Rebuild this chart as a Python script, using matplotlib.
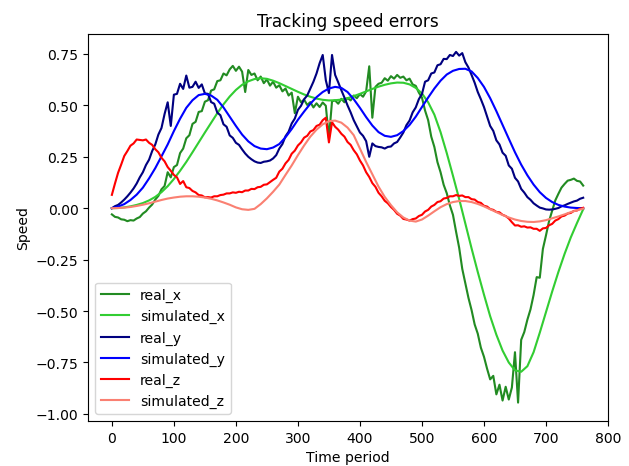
import numpy as np
import matplotlib
matplotlib.use("Agg")
import matplotlib.pyplot as plt

# ---- data ----
# real series sampled every 5 time steps (0..760)
real_x = [-0.030, -0.042, -0.045, -0.054, -0.056, -0.063, -0.058, -0.060, -0.050, -0.043,
          -0.026, -0.015, 0.003, 0.018, 0.042, 0.060, 0.092, 0.108, 0.175, 0.150,
          0.200, 0.210, 0.268, 0.290, 0.340, 0.355, 0.410, 0.420, 0.468, 0.472,
          0.518, 0.525, 0.572, 0.578, 0.618, 0.622, 0.655, 0.646, 0.675, 0.692,
          0.668, 0.688, 0.664, 0.565, 0.672, 0.648, 0.655, 0.622, 0.640, 0.608,
          0.626, 0.596, 0.615, 0.586, 0.598, 0.568, 0.582, 0.548, 0.562, 0.462,
          0.542, 0.515, 0.528, 0.502, 0.516, 0.490, 0.510, 0.492, 0.514, 0.498,
          0.340, 0.520, 0.524, 0.508, 0.532, 0.515, 0.536, 0.524, 0.548, 0.535,
          0.555, 0.542, 0.568, 0.690, 0.440, 0.590, 0.605, 0.610, 0.632, 0.620,
          0.642, 0.630, 0.648, 0.634, 0.640, 0.622, 0.630, 0.602, 0.595, 0.562,
          0.538, 0.475, 0.428, 0.348, 0.298, 0.224, 0.175, 0.114, 0.073, 0.014,
          -0.032, -0.114, -0.192, -0.295, -0.366, -0.436, -0.495, -0.565, -0.610, -0.678,
          -0.722, -0.780, -0.832, -0.815, -0.905, -0.858, -0.935, -0.868, -0.930, -0.872,
          -0.700, -0.945, -0.640, -0.602, -0.542, -0.492, -0.422, -0.335, -0.338, -0.198,
          -0.132, -0.062, -0.012, 0.038, 0.070, 0.100, 0.118, 0.134, 0.138, 0.144,
          0.133, 0.130, 0.110]

real_y = [0.000, 0.010, 0.016, 0.028, 0.042, 0.058, 0.076, 0.096, 0.120, 0.150,
          0.175, 0.210, 0.236, 0.278, 0.310, 0.358, 0.390, 0.458, 0.515, 0.400,
          0.552, 0.556, 0.605, 0.580, 0.645, 0.586, 0.590, 0.615, 0.585, 0.602,
          0.558, 0.556, 0.516, 0.508, 0.465, 0.452, 0.408, 0.396, 0.354, 0.342,
          0.318, 0.308, 0.286, 0.266, 0.250, 0.238, 0.228, 0.222, 0.220, 0.226,
          0.228, 0.232, 0.242, 0.258, 0.290, 0.312, 0.350, 0.372, 0.412, 0.436,
          0.478, 0.498, 0.530, 0.548, 0.582, 0.615, 0.655, 0.705, 0.745, 0.622,
          0.560, 0.745, 0.648, 0.612, 0.574, 0.538, 0.500, 0.466, 0.428, 0.398,
          0.368, 0.352, 0.326, 0.250, 0.315, 0.302, 0.298, 0.296, 0.290, 0.298,
          0.300, 0.315, 0.322, 0.344, 0.368, 0.404, 0.426, 0.466, 0.490, 0.530,
          0.555, 0.615, 0.622, 0.655, 0.660, 0.695, 0.700, 0.726, 0.725, 0.745,
          0.740, 0.760, 0.742, 0.754, 0.710, 0.684, 0.648, 0.610, 0.565, 0.530,
          0.492, 0.446, 0.400, 0.376, 0.330, 0.310, 0.270, 0.255, 0.208, 0.192,
          0.148, 0.130, 0.094, 0.076, 0.054, 0.041, 0.024, 0.013, 0.003, -0.001,
          -0.006, -0.007, -0.006, -0.003, 0.001, 0.009, 0.014, 0.021, 0.027, 0.033,
          0.037, 0.046, 0.051]

real_z = [0.065, 0.120, 0.172, 0.212, 0.254, 0.278, 0.304, 0.315, 0.334, 0.332,
          0.330, 0.334, 0.318, 0.308, 0.287, 0.272, 0.245, 0.228, 0.200, 0.182,
          0.162, 0.150, 0.118, 0.132, 0.102, 0.098, 0.084, 0.077, 0.064, 0.062,
          0.053, 0.054, 0.052, 0.058, 0.058, 0.064, 0.066, 0.072, 0.072, 0.077,
          0.075, 0.080, 0.078, 0.086, 0.086, 0.094, 0.093, 0.102, 0.104, 0.114,
          0.116, 0.127, 0.138, 0.148, 0.178, 0.192, 0.218, 0.235, 0.265, 0.280,
          0.305, 0.320, 0.343, 0.352, 0.373, 0.380, 0.400, 0.406, 0.428, 0.440,
          0.320, 0.418, 0.396, 0.382, 0.362, 0.348, 0.322, 0.308, 0.282, 0.262,
          0.232, 0.208, 0.175, 0.152, 0.122, 0.104, 0.075, 0.058, 0.036, 0.024,
          0.006, -0.008, -0.027, -0.036, -0.052, -0.055, -0.060, -0.053, -0.050, -0.038,
          -0.032, -0.016, -0.008, 0.008, 0.016, 0.030, 0.034, 0.047, 0.050, 0.058,
          0.058, 0.064, 0.060, 0.062, 0.054, 0.054, 0.044, 0.042, 0.030, 0.026,
          0.012, 0.008, -0.004, -0.008, -0.018, -0.020, -0.032, -0.038, -0.050, -0.068,
          -0.084, -0.083, -0.090, -0.088, -0.094, -0.093, -0.100, -0.100, -0.110, -0.098,
          -0.096, -0.083, -0.076, -0.060, -0.053, -0.040, -0.036, -0.026, -0.023, -0.013,
          -0.011, -0.003, 0.002]

# simulated series sampled every 10 time steps (0..760)
simulated_x = [0.000, 0.001, 0.004, 0.009, 0.016, 0.025, 0.038, 0.055, 0.078, 0.107,
               0.142, 0.182, 0.225, 0.272, 0.320, 0.368, 0.415, 0.462, 0.505, 0.543,
               0.575, 0.600, 0.617, 0.628, 0.632, 0.629, 0.620, 0.608, 0.594, 0.580,
               0.566, 0.553, 0.542, 0.533, 0.527, 0.524, 0.525, 0.528, 0.535, 0.545,
               0.556, 0.568, 0.580, 0.591, 0.600, 0.607, 0.611, 0.610, 0.602, 0.585,
               0.558, 0.515, 0.455, 0.370, 0.268, 0.158, 0.045, -0.075, -0.195, -0.310,
               -0.420, -0.525, -0.615, -0.692, -0.750, -0.788, -0.795, -0.768, -0.700, -0.605,
               -0.505, -0.405, -0.310, -0.222, -0.142, -0.072, -0.005]

simulated_y = [0.000, 0.008, 0.020, 0.040, 0.066, 0.100, 0.145, 0.195, 0.252, 0.310,
               0.375, 0.435, 0.488, 0.525, 0.550, 0.556, 0.548, 0.527, 0.490, 0.445,
               0.400, 0.358, 0.325, 0.302, 0.290, 0.287, 0.295, 0.312, 0.345, 0.385,
               0.430, 0.470, 0.508, 0.540, 0.565, 0.582, 0.590, 0.585, 0.565, 0.530,
               0.488, 0.443, 0.402, 0.370, 0.352, 0.347, 0.355, 0.375, 0.405, 0.445,
               0.492, 0.538, 0.582, 0.620, 0.650, 0.668, 0.677, 0.678, 0.665, 0.633,
               0.590, 0.535, 0.472, 0.405, 0.338, 0.272, 0.212, 0.160, 0.115, 0.078,
               0.050, 0.030, 0.016, 0.008, 0.003, 0.001, 0.000]

simulated_z = [0.000, 0.001, 0.003, 0.006, 0.011, 0.017, 0.024, 0.032, 0.040, 0.047,
               0.052, 0.056, 0.058, 0.058, 0.056, 0.052, 0.046, 0.038, 0.028, 0.017,
               0.004, -0.005, -0.008, -0.003, 0.020, 0.048, 0.080, 0.115, 0.162, 0.208,
               0.258, 0.305, 0.348, 0.382, 0.408, 0.423, 0.426, 0.416, 0.392, 0.355,
               0.290, 0.225, 0.165, 0.105, 0.055, 0.015, -0.020, -0.045, -0.060, -0.065,
               -0.055, -0.036, -0.015, 0.005, 0.020, 0.030, 0.035, 0.035, 0.030, 0.021,
               0.009, -0.005, -0.019, -0.033, -0.045, -0.055, -0.062, -0.066, -0.067, -0.064,
               -0.058, -0.049, -0.040, -0.030, -0.019, -0.010, -0.002]

t_real = np.arange(len(real_x)) * 5
t_sim = np.arange(len(simulated_x)) * 10

# ---- figure ----
DPI = 101
fig = plt.figure(figsize=(629 / DPI, 467 / DPI), dpi=DPI)
ax = fig.add_axes([88.3 / 629, 1 - 421.7 / 467, (608 - 88.3) / 629, (421.7 - 35) / 467])

ax.plot(t_real, real_x, color="forestgreen", label="real_x")
ax.plot(t_sim, simulated_x, color="limegreen", label="simulated_x")
ax.plot(t_real, real_y, color="navy", label="real_y")
ax.plot(t_sim, simulated_y, color="blue", label="simulated_y")
ax.plot(t_real, real_z, color="red", label="real_z")
ax.plot(t_sim, simulated_z, color="salmon", label="simulated_z")

ax.set_xlim(-38, 800)
ax.set_ylim(-1.033, 0.847)
ax.set_yticks([-1.0, -0.75, -0.5, -0.25, 0.0, 0.25, 0.5, 0.75])
ax.set_title("Tracking speed errors")
ax.set_xlabel("Time period")
ax.set_ylabel("Speed")
ax.legend(loc="lower left")

fig.savefig("out.png", dpi=DPI)
